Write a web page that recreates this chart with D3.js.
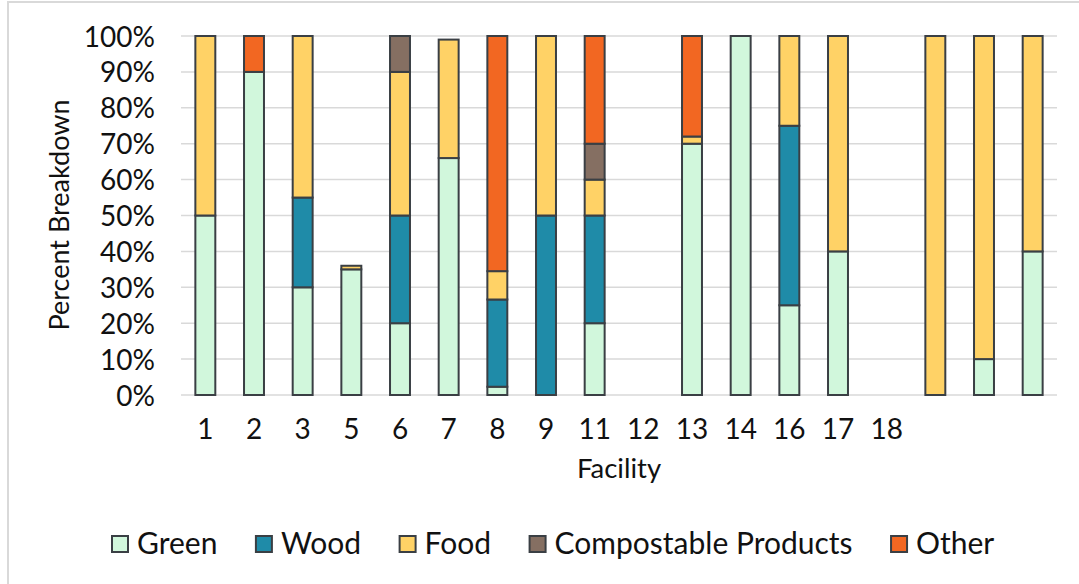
<!DOCTYPE html>
<html>
<head>
<meta charset="utf-8">
<script src="https://cdn.jsdelivr.net/npm/d3@7"></script>
<style>
  html, body { margin: 0; padding: 0; background: #fff; }
  svg { display: block; font-family: Lato, "Open Sans", sans-serif; }
</style>
</head>
<body>
<svg id="chart" width="1079" height="584"></svg>
<script>
// ---- data ----
const facilities = ["1","2","3","5","6","7","8","9","11","12","13","14","16","17","18","","",""];
const seriesNames = ["Green","Wood","Food","Compostable Products","Other"];
const green   = [50, 90, 30, 35, 20, 66, 2.3, 0, 20, 0, 70, 100, 25, 40, 0, 0, 10, 40];
const wood    = [0, 0, 25, 0, 30, 0, 24.3, 50, 30, 0, 0, 0, 50, 0, 0, 0, 0, 0];
const food    = [50, 0, 45, 1, 40, 33, 7.9, 50, 10, 0, 2, 0, 25, 60, 0, 100, 90, 60];
const compost = [0, 0, 0, 0, 10, 0, 0, 0, 10, 0, 0, 0, 0, 0, 0, 0, 0, 0];
const other   = [0, 10, 0, 0, 0, 0, 65.5, 0, 30, 0, 28, 0, 0, 0, 0, 0, 0, 0];
const yTicks  = [0, 10, 20, 30, 40, 50, 60, 70, 80, 90, 100];
const colors  = ["#d1f7dc", "#1f8ba8", "#ffd266", "#856f62", "#f26722"];

(function () {
const seriesValues = [green, wood, food, compost, other];
const rows = facilities.map((f, i) => {
  const r = { idx: i };
  seriesNames.forEach((s, j) => r[s] = seriesValues[j][i]);
  return r;
});

const svg = d3.select("#chart");
const W = 1079, H = 584;

// outer border
svg.append("rect").attr("x", 8).attr("y", 2).attr("width", W + 20).attr("height", H + 20)
  .attr("fill", "none").attr("stroke", "#d9d9d9").attr("stroke-width", 2);

const pLeft = 181, pRight = 1057, pTop = 36, pBottom = 395;

const x = d3.scaleBand().domain(facilities.map((d, i) => i)).range([pLeft, pRight]).paddingInner(0.59).paddingOuter(0.295);
const y = d3.scaleLinear().domain([0, 100]).range([pBottom, pTop]);

// gridlines
svg.append("g").selectAll("line").data(yTicks).join("line")
  .attr("x1", pLeft).attr("x2", pRight)
  .attr("y1", d => y(d)).attr("y2", d => y(d))
  .attr("stroke", "#d9d9d9").attr("stroke-width", 1.5);

// y axis labels
const yAxis = d3.axisLeft(y).tickValues(yTicks).tickFormat(d => d + "%").tickSize(0).tickPadding(0);
const gy = svg.append("g").attr("transform", `translate(155,0)`).call(yAxis);
gy.select(".domain").remove();
gy.selectAll("text").attr("font-size", 28).attr("fill", "#111").attr("dy", "0.36em").style("font-family", "Lato");

// x axis labels
const xAxis = d3.axisBottom(x).tickFormat(i => facilities[i]).tickSize(0).tickPadding(0);
const gx = svg.append("g").attr("transform", `translate(0,${pBottom + 44})`).call(xAxis);
gx.select(".domain").remove();
gx.selectAll("text").attr("font-size", 28).attr("fill", "#111").attr("dy", 0).style("font-family", "Lato");

// stacked bars
const stacked = d3.stack().keys(seriesNames)(rows);
svg.append("g").selectAll("g").data(stacked).join("g")
  .attr("fill", (d, i) => colors[i])
  .selectAll("rect").data(d => d.filter(s => s[1] - s[0] > 0)).join("rect")
  .attr("x", d => x(d.data.idx))
  .attr("width", x.bandwidth())
  .attr("y", d => y(d[1]))
  .attr("height", d => y(d[0]) - y(d[1]))
  .attr("stroke", "#3a3f44").attr("stroke-width", 2);

// axis titles
svg.append("text").attr("x", 619).attr("y", 478).attr("text-anchor", "middle")
  .attr("font-size", 27.5).attr("fill", "#111").text("Facility");
svg.append("text").attr("transform", `translate(69,215) rotate(-90)`).attr("text-anchor", "middle")
  .attr("font-size", 27).attr("fill", "#111").text("Percent Breakdown");

// legend
const lg = svg.append("g");
let lx = 112;
seriesNames.forEach((s, i) => {
  const g = lg.append("g").attr("transform", `translate(${lx},0)`);
  g.append("rect").attr("x", 0).attr("y", 536).attr("width", 16).attr("height", 16)
    .attr("fill", colors[i]).attr("stroke", "#3a3f44").attr("stroke-width", 2);
  const t = g.append("text").attr("x", 25).attr("y", 554).attr("font-size", 30).attr("fill", "#111").text(s);
  lx += 25 + t.node().getComputedTextLength() + 38.5;
});
})();
</script>
</body>
</html>
